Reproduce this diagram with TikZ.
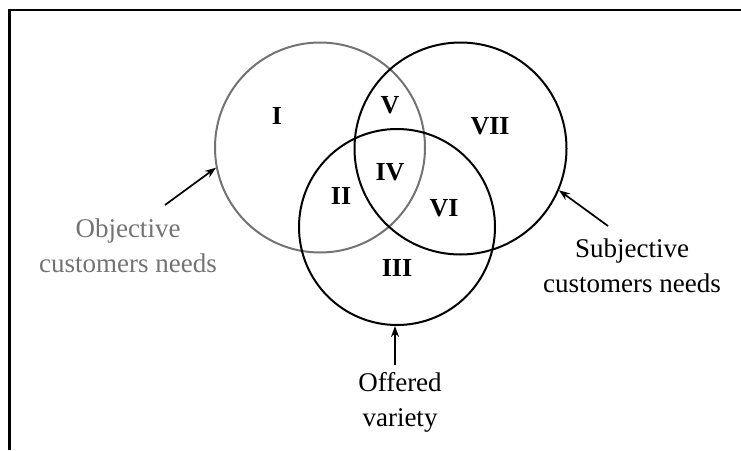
\documentclass[tikz,border=0pt]{standalone}
\usepackage{fontspec}
\setmainfont{Liberation Serif}
\usetikzlibrary{arrows.meta}
\definecolor{objgray}{gray}{0.45}
\begin{document}
\begin{tikzpicture}[x=1pt,y=-1pt,
  set/.style={circle,draw,line width=2pt,inner sep=0pt,minimum size=#1},
  region/.style={inner sep=0pt,font=\fontsize{26}{30}\selectfont\bfseries},
  caption/.style={anchor=base,inner sep=0pt,align=center,font=\fontsize{27}{35}\selectfont},
  pointer/.style={line width=1.7pt,-{Stealth[length=11pt,width=8pt]}}]
  \useasboundingbox (0,0) rectangle (741,450);
  % frame edges
  \draw[line width=2.5pt] (9.5,450) -- (9.5,10) -- (745,10);

  % the three sets
  \node[set=210pt,draw=objgray] (obj) at (320,147.5) {};
  \node[set=212pt] (subj) at (460.5,148.5) {};
  \node[set=196pt] (offer) at (397,227) {};

  % region numbers
  \node[region] (r1) at (277,116) {I};
  \node[region] (r5) at (390,105) {V};
  \node[region] (r7) at (490,126) {VII};
  \node[region] (r4) at (390,172) {IV};
  \node[region] (r2) at (341,196) {II};
  \node[region] (r6) at (444,208) {VI};
  \node[region] (r3) at (397,268) {III};

  % captions (base anchor sits on the last line)
  \node[caption,text=objgray] (objlbl) at (128,272) {Objective\\customers needs};
  \node[caption] (subjlbl) at (632,292) {Subjective\\customers needs};
  \node[caption] (offerlbl) at (400,426) {Offered\\variety};

  % pointers from captions to the set outlines
  \coordinate (objtail) at (165,205);
  \coordinate (subjtail) at (608,226);
  \coordinate (offertail) at (395,365);
  \draw[pointer] (objtail) -- (obj.191);
  \draw[pointer] (subjtail) -- (subj.-23);
  \draw[pointer] (offertail) -- (offertail |- offer.south);
\end{tikzpicture}
\end{document}
